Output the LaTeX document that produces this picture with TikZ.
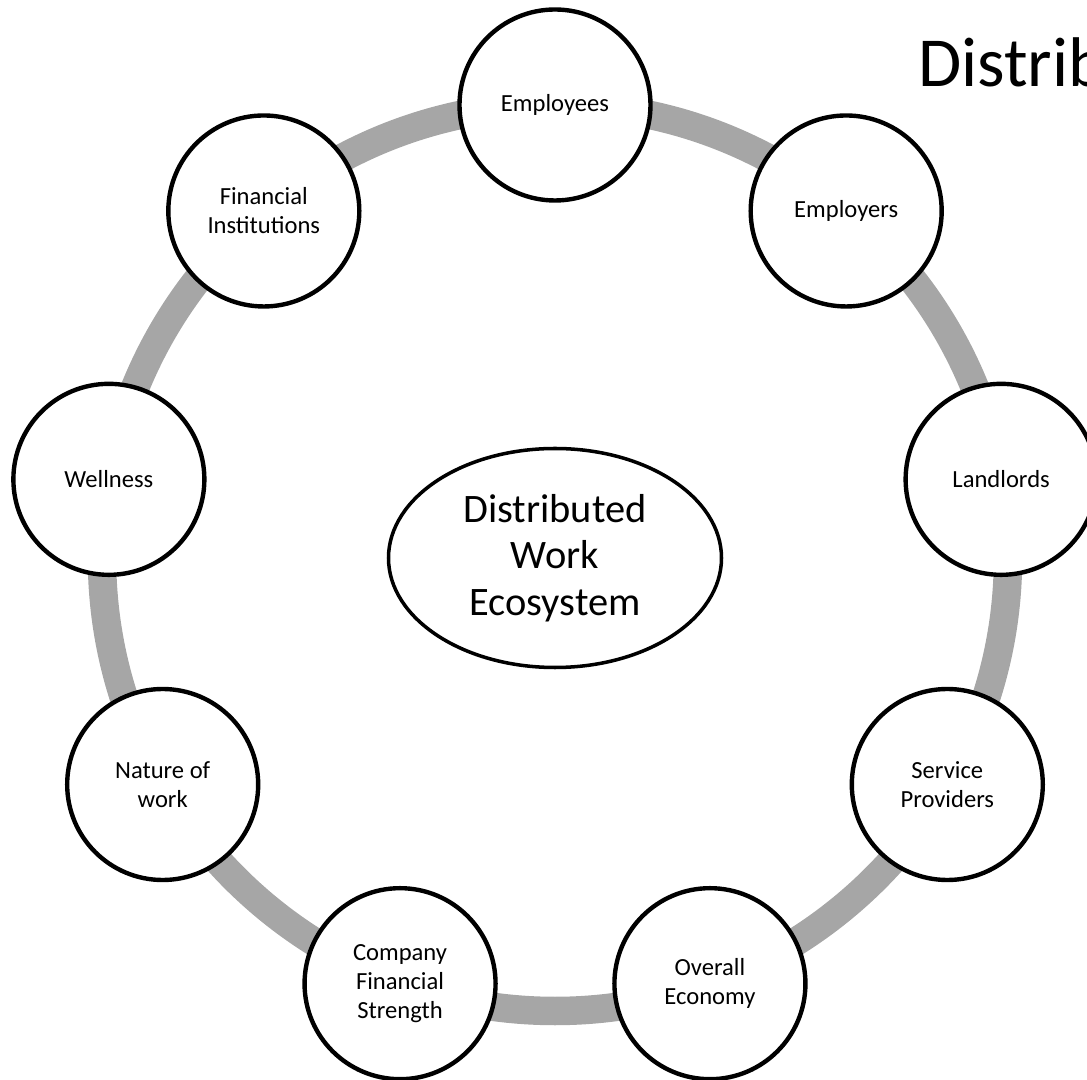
\documentclass[tikz,border=0pt]{standalone}
\usepackage{fontspec}
\setmainfont{Carlito}
\usepackage{tikz}
\usetikzlibrary{shapes.geometric,positioning}
\definecolor{ringgray}{RGB}{166,166,166}

\begin{document}
\begin{tikzpicture}
\tikzstyle{every node}+=[inner sep=0pt]
\tikzstyle{member}=[draw=black,line width=2.5pt,circle,fill=white,minimum size=3.82cm,align=center,font=\fontsize{14}{16.5}\selectfont]
\tikzstyle{hub}=[draw=black,line width=2pt,ellipse,fill=white,minimum width=6.66cm,minimum height=4.38cm,align=center,font=\fontsize{23}{26.5}\selectfont]
\useasboundingbox (-11.10,-10.44) rectangle (10.64,11.16);
\node [hub] (eco) at (0,0) {Distributed\\Work\\Ecosystem};
\draw [ringgray,line width=0.57cm] (eco.center) circle (9.06);
\node [member] (emp) at (90:9.06) {Employees};
\node [member] (empr) at (50:9.06) {Employers};
\node [member] (land) at (10:9.06) {Landlords};
\node [member] (serv) at (-30:9.06) {Service\\Providers};
\node [member] (econ) at (-70:9.06) {Overall\\Economy};
\node [member] (strength) at (-110:9.06) {Company\\Financial\\Strength};
\node [member] (nature) at (-150:9.06) {Nature of\\work};
\node [member] (well) at (170:9.06) {Wellness};
\node [member] (fin) at (130:9.06) {Financial\\Institutions};
\node [anchor=base west,font=\fontsize{40}{48}\selectfont] (title) at (7.26,9.42) {Distributed};
\end{tikzpicture}
\end{document}
